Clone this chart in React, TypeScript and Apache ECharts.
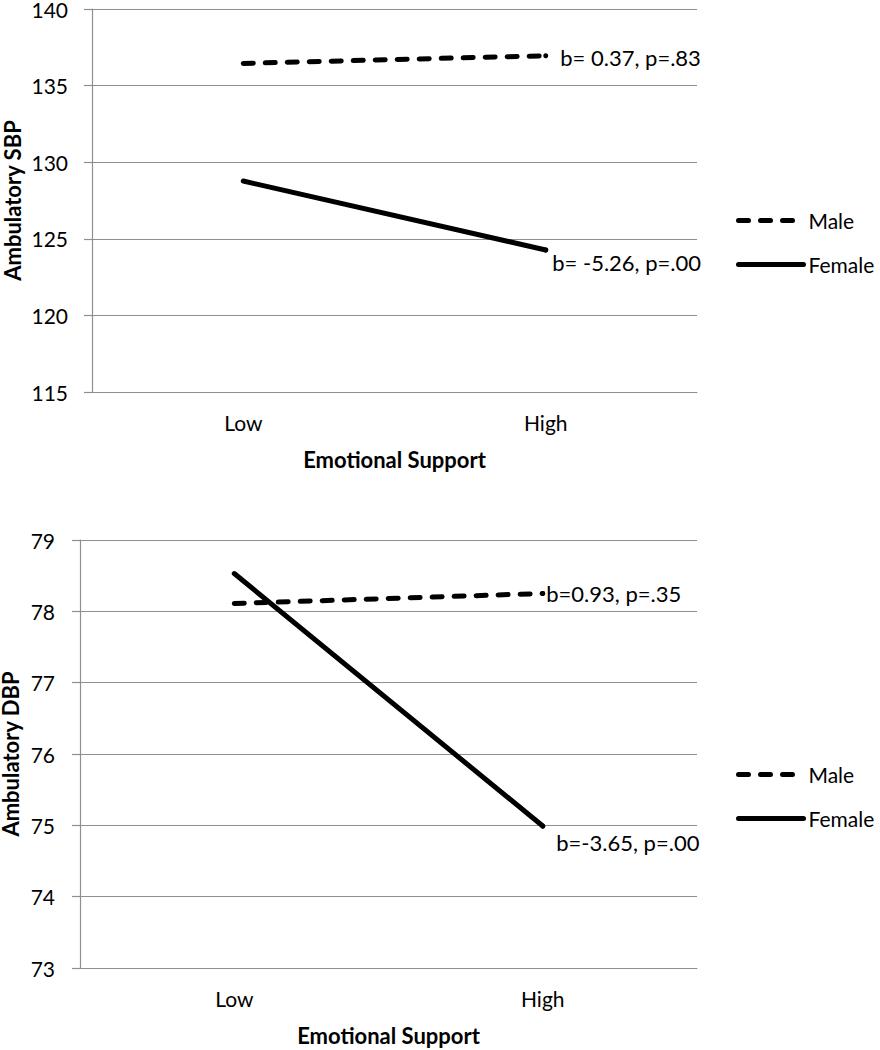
import React, { useEffect, useRef } from "react";
import * as echarts from "echarts";

const categories = ["Low", "High"];
const seriesNames = ["Male", "Female"];
const sbpMale = [136.45, 136.95];
const sbpFemale = [128.77, 124.27];
const dbpMale = [78.11, 78.25];
const dbpFemale = [78.53, 74.99];
const sbpNotes = ["b= 0.37, p=.83", "b= -5.26, p=.00"];
const dbpNotes = ["b=0.93, p=.35", "b=-3.65, p=.00"];
const sbpAxis = { title: "Ambulatory SBP", min: 115, max: 140, interval: 5 };
const dbpAxis = { title: "Ambulatory DBP", min: 73, max: 79, interval: 1 };
const xTitle = "Emotional Support";

const FONT = "Lato, 'Open Sans', sans-serif";
const GRID_COLOR = "#8f8f8f";

function makeSeries(
  name: string,
  values: number[],
  note: string,
  gridIdx: number,
  dashed: boolean,
  labelDistance: number,
  labelOffset: [number, number]
) {
  return {
    type: "line",
    name,
    xAxisIndex: gridIdx,
    yAxisIndex: gridIdx,
    symbol: "none",
    color: "#000",
    lineStyle: {
      color: "#000",
      width: 5,
      type: dashed ? [10, 12] : "solid",
      cap: "round",
    },
    data: values.map((v, i) =>
      i === values.length - 1
        ? {
            value: v,
            symbol: "circle",
            symbolSize: 5,
            itemStyle: { color: "#000" },
            label: {
              show: true,
              position: "right",
              distance: labelDistance,
              offset: labelOffset,
              formatter: note,
              color: "#000",
              fontSize: 22,
              fontFamily: FONT,
            },
          }
        : v
    ),
    z: 3,
  };
}

function makeYAxis(gridIndex: number, ax: any, nameGap: number, labelMargin: number) {
  return {
    type: "value",
    gridIndex,
    min: ax.min,
    max: ax.max,
    interval: ax.interval,
    name: ax.title,
    nameLocation: "middle",
    nameRotate: 90,
    nameGap,
    nameMoveOverlap: false,
    nameTextStyle: {
      fontSize: 22,
      lineHeight: 20,
      fontWeight: "bold",
      color: "#000",
      fontFamily: FONT,
    },
    axisLine: { show: true, lineStyle: { color: GRID_COLOR, width: 1.2 } },
    axisTick: { show: true, length: 8, lineStyle: { color: GRID_COLOR, width: 1.2 } },
    axisLabel: {
      fontSize: 21,
      lineHeight: 14,
      color: "#000",
      fontFamily: FONT,
      margin: labelMargin,
    },
    splitLine: { show: true, lineStyle: { color: GRID_COLOR, width: 1.2 } },
  };
}

function makeXAxis(gridIndex: number) {
  return {
    type: "category",
    gridIndex,
    data: categories,
    boundaryGap: true,
    name: xTitle,
    nameLocation: "middle",
    nameGap: 56,
    nameMoveOverlap: false,
    nameTextStyle: { fontSize: 22, fontWeight: "bold", color: "#000", fontFamily: FONT },
    axisLine: { show: true, lineStyle: { color: GRID_COLOR, width: 1.2 } },
    axisTick: { show: false },
    axisLabel: { fontSize: 21, color: "#000", fontFamily: FONT, margin: 20 },
    splitLine: { show: false },
  };
}

function makeLegend(top: number) {
  return {
    orient: "vertical",
    left: 736,
    top,
    padding: 0,
    itemWidth: 65,
    itemHeight: 22,
    itemGap: 23,
    data: seriesNames,
    selectedMode: false,
    textStyle: { fontSize: 21, color: "#000", fontFamily: FONT },
    itemStyle: { opacity: 0, color: "transparent", borderWidth: 0 },
    lineStyle: { width: 5, type: "inherit", cap: "round" },
  };
}

export default function App() {
  const ref = useRef<HTMLDivElement>(null);
  useEffect(() => {
    if (!ref.current) return;
    const chart = echarts.init(ref.current, null, { renderer: "svg" });
    chart.setOption({
      animation: false,
      backgroundColor: "#fff",
      grid: [
        { left: 92, top: 9, width: 605, height: 383, containLabel: false, outerBoundsMode: "none" },
        { left: 80, top: 540, width: 617, height: 428, containLabel: false, outerBoundsMode: "none" },
      ],
      xAxis: [makeXAxis(0), makeXAxis(1)],
      yAxis: [makeYAxis(0, sbpAxis, 70, 24), makeYAxis(1, dbpAxis, 60, 25)],
      legend: [makeLegend(210), makeLegend(764)],
      series: [
        makeSeries(seriesNames[0], sbpMale, sbpNotes[0], 0, true, 12, [0, 2]),
        makeSeries(seriesNames[1], sbpFemale, sbpNotes[1], 0, false, 4, [0, 13]),
        makeSeries(seriesNames[0], dbpMale, dbpNotes[0], 1, true, 1, [0, 0]),
        makeSeries(seriesNames[1], dbpFemale, dbpNotes[1], 1, false, 11, [0, 16]),
      ],
    });
    return () => chart.dispose();
  }, []);
  return (
    <div
      ref={ref}
      style={{ position: "absolute", left: 0, top: 0, width: 880, height: 1050 }}
    />
  );
}
